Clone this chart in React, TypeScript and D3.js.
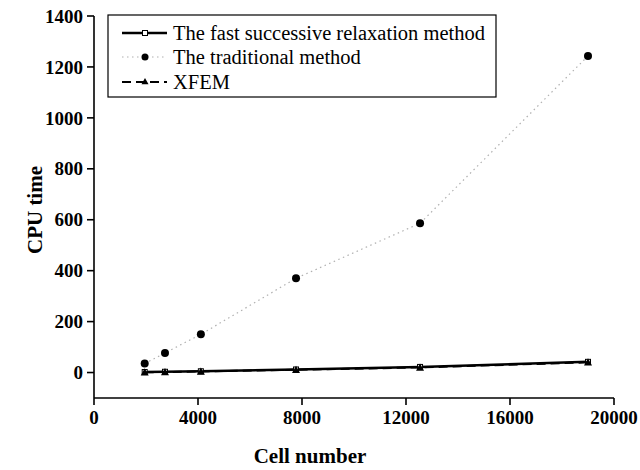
import React from "react";
import * as d3 from "d3";

const cells = [1950, 2730, 4110, 7770, 12540, 19000];
const fastValues = [2, 3, 5, 12, 22, 42];
const traditionalValues = [35, 77, 150, 370, 586, 1243];
const xfemValues = [1, 2, 4, 11, 20, 40];
const xTicks = [0, 4000, 8000, 12000, 16000, 20000];
const yTicks = [0, 200, 400, 600, 800, 1000, 1200, 1400];
const seriesNames = ["The fast successive relaxation method", "The traditional method", "XFEM"];

const W = 640, H = 470;
const left = 94, right = 614, top = 16, bottom = 398;
const FONT = "Liberation Serif";
const tStyle = { fontFamily: FONT };

export default function App() {
  const x = d3.scaleLinear().domain([0, 20000]).range([left, right]);
  const y = d3.scaleLinear().domain([-100, 1400]).range([bottom, top]);
  const line = (vals: number[]) =>
    d3.line<number>().x((_, i) => x(cells[i])).y((v) => y(v))(vals) || "";

  const tri = (cx: number, cy: number, s: number) =>
    `M${cx},${cy - s}L${cx + s},${cy + s * 0.8}L${cx - s},${cy + s * 0.8}Z`;

  return (
    <svg width={W} height={H} style={{ position: "absolute", left: 0, top: 0, background: "#fff", fontFamily: FONT }}>
      <rect width={W} height={H} fill="#fff" />
      {/* axes */}
      <line x1={left} x2={left} y1={top} y2={bottom} stroke="#000" strokeWidth={1.6} />
      <line x1={left} x2={right} y1={bottom} y2={bottom} stroke="#000" strokeWidth={1.6} />
      {yTicks.map((t) => (
        <g key={"y" + t}>
          <line x1={left - 7} x2={left} y1={y(t)} y2={y(t)} stroke="#000" strokeWidth={1.6} />
          <text style={tStyle} x={left - 11} y={y(t)} dy="0.35em" textAnchor="end" fontSize={19} fontWeight="bold">{t}</text>
        </g>
      ))}
      {xTicks.map((t) => (
        <g key={"x" + t}>
          <line x1={x(t)} x2={x(t)} y1={bottom} y2={bottom + 7} stroke="#000" strokeWidth={1.6} />
          <text style={tStyle} x={x(t)} y={bottom + 26} textAnchor="middle" fontSize={19} fontWeight="bold">{t}</text>
        </g>
      ))}
      <text style={tStyle} x={310} y={463} textAnchor="middle" fontSize={21} fontWeight="bold">Cell number</text>
      <text style={tStyle} transform={`translate(42,210) rotate(-90)`} textAnchor="middle" fontSize={21} fontWeight="bold">CPU time</text>

      {/* traditional */}
      <path d={line(traditionalValues)} fill="none" stroke="#b0b0b0" strokeWidth={1.2} strokeDasharray="1.5,3.5" />
      {traditionalValues.map((v, i) => (
        <circle key={"t" + i} cx={x(cells[i])} cy={y(v)} r={4} fill="#000" />
      ))}
      {/* fast */}
      <path d={line(fastValues)} fill="none" stroke="#000" strokeWidth={2.5} />
      {fastValues.map((v, i) => (
        <rect key={"f" + i} x={x(cells[i]) - 2.5} y={y(v) - 2.5} width={5} height={5} fill="#fff" stroke="#000" strokeWidth={1} />
      ))}
      {/* xfem */}
      <path d={line(xfemValues)} fill="none" stroke="#000" strokeWidth={2} strokeDasharray="9,5" />
      {xfemValues.map((v, i) => (
        <path key={"x" + i} d={tri(x(cells[i]), y(v), 4)} fill="#000" />
      ))}

      {/* legend */}
      <rect x={108} y={15} width={388} height={82} fill="#fff" stroke="#000" strokeWidth={1.2} />
      <g>
        <line x1={122} x2={167} y1={33} y2={33} stroke="#000" strokeWidth={2.5} />
        <rect x={142.5} y={30.5} width={5} height={5} fill="#fff" stroke="#000" strokeWidth={1} />
        <text style={tStyle} x={173} y={40} fontSize={20.5}>{seriesNames[0]}</text>
        <line x1={122} x2={167} y1={57} y2={57} stroke="#b0b0b0" strokeWidth={1.2} strokeDasharray="1.5,3.5" />
        <circle cx={145} cy={57} r={3.5} fill="#000" />
        <text style={tStyle} x={173} y={64} fontSize={20.5}>{seriesNames[1]}</text>
        <line x1={122} x2={167} y1={82} y2={82} stroke="#000" strokeWidth={2} strokeDasharray="9,5" />
        <path d={tri(145, 81.5, 3.5)} fill="#000" />
        <text style={tStyle} x={173} y={89} fontSize={20.5}>{seriesNames[2]}</text>
      </g>
    </svg>
  );
}
